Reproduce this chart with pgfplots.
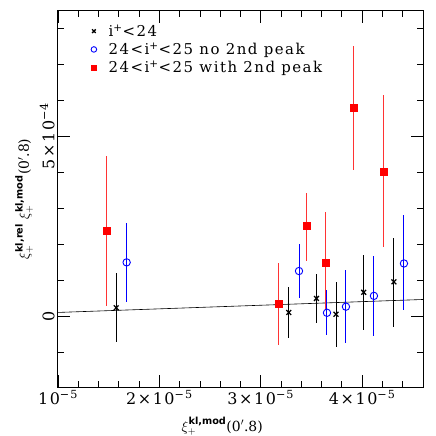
\documentclass[border=0pt]{standalone}
\usepackage{amsmath}
\usepackage{fontspec}
\setmainfont{DejaVu Serif}
\setsansfont{DejaVu Sans}
\newfontfamily\widefont{DejaVu Serif}[LetterSpace=10]
\usepackage{pgfplots}
\usepackage{pgfplotstable}
\pgfplotsset{compat=1.18}

\pgfplotstableread{
x y ep em
1.574e-5 0.23e-4 0.96e-4 0.95e-4
3.276e-5 0.10e-4 0.71e-4 0.72e-4
3.549e-5 0.49e-4 0.68e-4 0.68e-4
3.742e-5 0.05e-4 0.90e-4 0.90e-4
4.015e-5 0.66e-4 1.03e-4 1.05e-4
4.313e-5 0.95e-4 1.23e-4 1.25e-4
}\blackdata

\pgfplotstableread{
x y ep em
1.677e-5 1.49e-4 1.08e-4 1.09e-4
3.377e-5 1.25e-4 0.75e-4 0.76e-4
3.653e-5 0.09e-4 0.63e-4 0.62e-4
3.840e-5 0.26e-4 1.02e-4 1.02e-4
4.116e-5 0.56e-4 1.12e-4 1.12e-4
4.412e-5 1.46e-4 1.35e-4 1.29e-4
}\bluedata

\pgfplotstableread{
x y ep em
1.476e-5 2.36e-4 2.09e-4 2.07e-4
3.177e-5 0.33e-4 1.13e-4 1.14e-4
3.450e-5 2.50e-4 0.91e-4 0.96e-4
3.637e-5 1.48e-4 1.42e-4 1.31e-4
3.916e-5 5.78e-4 1.72e-4 1.72e-4
4.209e-5 4.02e-4 2.12e-4 2.11e-4
}\reddata

\begin{document}
\begin{tikzpicture}
\useasboundingbox (-58bp,-49bp) rectangle (378bp,387bp);
\begin{axis}[
  at={(0,0)}, anchor=south west,
  width=365bp, height=376bp, scale only axis,
  xmin=1e-5, xmax=4.6e-5, ymin=-1.97e-4, ymax=8.47e-4,
  scaled x ticks=false, scaled y ticks=false,
  xtick={1e-5,2e-5,3e-5,4e-5},
  xticklabels={10\textsuperscript{−5}, 2×10\textsuperscript{−5}, 3×10\textsuperscript{−5}, 4×10\textsuperscript{−5}},
  minor xtick={1.2e-5,1.4e-5,1.6e-5,1.8e-5,2.2e-5,2.4e-5,2.6e-5,2.8e-5,3.2e-5,3.4e-5,3.6e-5,3.8e-5,4.2e-5,4.4e-5},
  ytick={0,5e-4}, yticklabels={0,5×10\textsuperscript{−4}},
  minor ytick={-1e-4,1e-4,2e-4,3e-4,4e-4,6e-4,7e-4,8e-4},
  major tick length=12bp, minor tick length=6bp,
  tick style={black, line width=0.8bp},
  axis line style={line width=1bp},
  xtick pos=both, ytick pos=both,
  xticklabel pos=bottom, yticklabel pos=left,
  tick label style={font=\widefont\fontsize{16}{18}\selectfont},
  yticklabel style={rotate=90, anchor=south},
  label style={font=\fontsize{14}{17}\selectfont},
  xlabel={$\xi_+^{\text{\sffamily\bfseries kl,mod}}$(0$^{\prime}$.8)},
  ylabel={$\xi_+^{\text{\sffamily\bfseries kl,rel}}\;\xi_+^{\text{\sffamily\bfseries kl,mod}}$(0$^{\prime}$.8)},
  xlabel style={at={(rel axis cs:0.45,0)}, anchor=base, yshift=-44bp},
  legend style={at={(0.082,0.975)}, anchor=north west, draw=none, fill=none,
    font=\widefont\fontsize{15}{17}\selectfont, row sep=1bp,
    /tikz/every odd column/.append style={column sep=10bp}},
  legend cell align=left,
  legend image post style={scale=0.75},
]
\addplot[black, line width=0.6bp, forget plot] coordinates {(1e-5,1e-5) (4.6e-5,4.6e-5)};
\addplot[only marks, mark=x, mark size=3.4bp, black, line width=1.3bp,
  error bars/.cd, y dir=both, y explicit, error mark=none,
  error bar style={line width=1bp, black}]
  table[x=x, y=y, y error plus=ep, y error minus=em] {\blackdata};
\addlegendentry{i\textsuperscript{+}<24}
\addplot[only marks, mark=o, mark size=3.7bp, blue, line width=0.9bp,
  error bars/.cd, y dir=both, y explicit, error mark=none,
  error bar style={line width=1bp, blue}]
  table[x=x, y=y, y error plus=ep, y error minus=em] {\bluedata};
\addlegendentry{24<i\textsuperscript{+}<25 no 2nd peak}
\addplot[only marks, mark=square*, mark size=3.5bp, red,
  error bars/.cd, y dir=both, y explicit, error mark=none,
  error bar style={line width=1bp, red!80}]
  table[x=x, y=y, y error plus=ep, y error minus=em] {\reddata};
\addlegendentry{24<i\textsuperscript{+}<25 with 2nd peak}
\end{axis}
\end{tikzpicture}
\end{document}
